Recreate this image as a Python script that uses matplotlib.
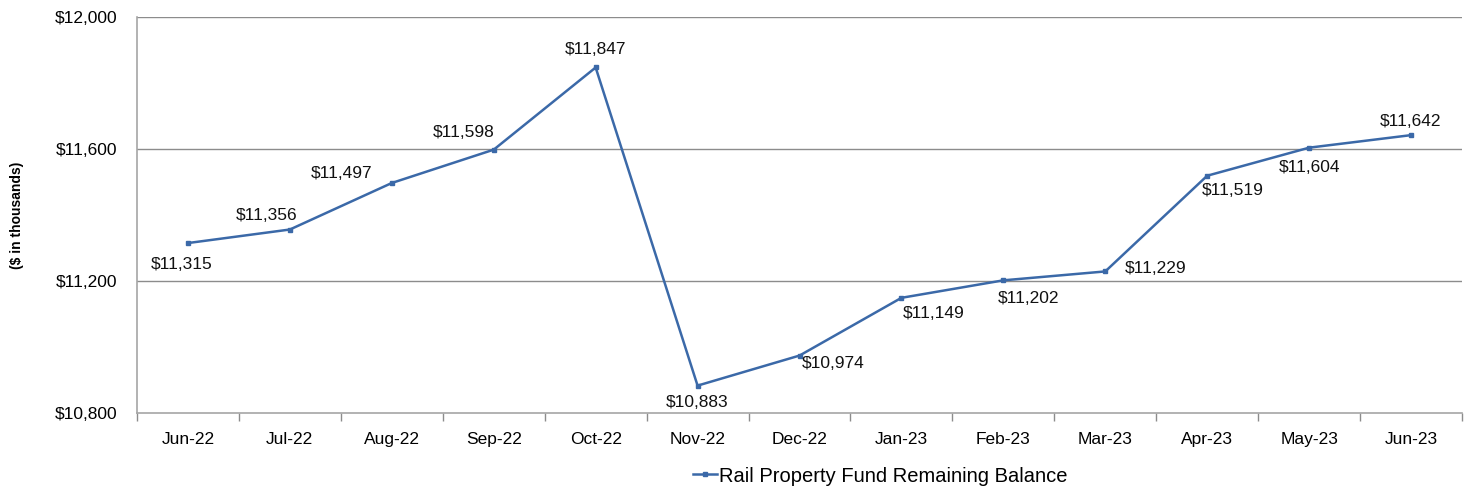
import numpy as np
import matplotlib
matplotlib.use('Agg')
import matplotlib.pyplot as plt

months = ["Jun-22", "Jul-22", "Aug-22", "Sep-22", "Oct-22", "Nov-22", "Dec-22",
          "Jan-23", "Feb-23", "Mar-23", "Apr-23", "May-23", "Jun-23"]
balance = [11315, 11356, 11497, 11598, 11847, 10883, 10974,
           11149, 11202, 11229, 11519, 11604, 11642]
# label offsets in pixels (dx, dy), screen up positive
label_offsets = [(-6, -21), (-23, 14), (-50, 9), (-30, 17), (0, 18), (0, -17), (34, -8),
                 (32, -16), (25, -18), (50, 3), (26, -15), (0, -20), (0, 14)]
yticks = [10800, 11200, 11600, 12000]

plt.rcParams['font.family'] = ['Liberation Sans', 'DejaVu Sans']
line_color = '#3B69A8'
grid_color = '#8C8C8C'

fig = plt.figure(figsize=(14.68, 4.9), dpi=100)
ax = fig.add_axes([137/1468, 77/490, 1325/1468, 396/490])

x = np.arange(len(months))
ax.plot(x, balance, color=line_color, lw=1.8, marker='s', ms=3.5,
        label="Rail Property Fund Remaining Balance")

for xi, v, (dx, dy) in zip(x, balance, label_offsets):
    ax.annotate("${:,}".format(v), (xi, v), xytext=(dx, dy), textcoords='offset pixels',
                ha='center', va='center', fontsize=12.5, color='#111111')

ax.set_xlim(-0.5, len(months) - 0.5)
ax.set_ylim(10800, 12000)
ax.set_yticks(yticks)
ax.set_yticklabels(["${:,}".format(t) for t in yticks], fontsize=12.5)
ax.tick_params(axis='y', length=0, pad=14)
for t in yticks[1:]:
    ax.axhline(t, color=grid_color, lw=1, zorder=0)

ax.set_xticks(x)
ax.set_xticklabels(months, fontsize=12.5)
ax.tick_params(axis='x', length=0, pad=14)
ax.set_xticks(np.arange(len(months) + 1) - 0.5, minor=True)
ax.tick_params(axis='x', which='minor', length=6, color=grid_color, width=1)

for s in ['top', 'right']:
    ax.spines[s].set_visible(False)
for s in ['left', 'bottom']:
    ax.spines[s].set_color('#A6A6A6')
    ax.spines[s].set_linewidth(1.2)

ax.set_ylabel("($ in thousands)", fontsize=10, fontweight='bold')
ax.yaxis.set_label_coords(-0.085, 0.5)

# title sits mostly above the canvas, as in the original crop
fig.text(0.55, 1.008, "Rail Property Fund Remaining Balance", ha='center', va='baseline',
         fontsize=15, fontweight='bold')

fig.legend(loc='center', bbox_to_anchor=(880/1468, 14/490), frameon=False,
           fontsize=14.5, handlelength=1.2, handletextpad=0.1)

fig.savefig("out.png", dpi=100)
